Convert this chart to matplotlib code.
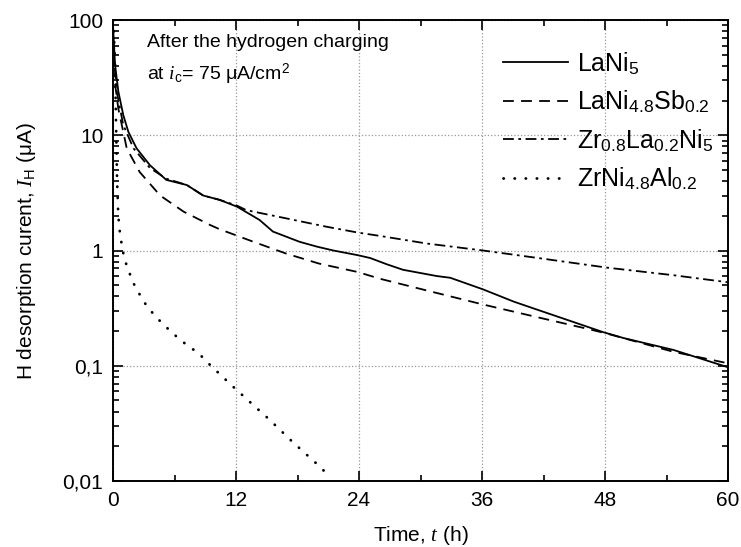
import numpy as np
import matplotlib
matplotlib.use("Agg")
import matplotlib.pyplot as plt
from matplotlib.ticker import FixedLocator, LogLocator, NullFormatter, MultipleLocator

plt.rcParams['font.family'] = ['Liberation Sans', 'DejaVu Sans']
plt.rcParams['mathtext.fontset'] = 'custom'
plt.rcParams['mathtext.rm'] = 'Liberation Sans'
plt.rcParams['mathtext.it'] = 'Liberation Serif:italic'

# LaNi5 (solid)
t_lani5 = [0, 0.2, 0.52, 1.0, 1.5, 2.3, 3.6, 5.2, 7.2, 8.8, 10.4, 12.1, 14.3, 15.6,
           18.2, 19.9, 21.5, 23.9, 25.1, 26.7, 28.3, 31.6, 32.9, 36.1, 39.1, 41.0,
           41.7, 47.8, 49.8, 54.7, 60]
i_lani5 = [90, 41, 24, 15, 10.7, 7.7, 5.5, 4.1, 3.7, 3.0, 2.75, 2.4, 1.84, 1.46,
           1.19, 1.08, 1.0, 0.91, 0.86, 0.76, 0.68, 0.60, 0.58, 0.46, 0.36, 0.315,
           0.30, 0.196, 0.174, 0.137, 0.097]

# LaNi4.8Sb0.2 (dashed)
t_sb = [0, 0.2, 0.52, 1.34, 2.6, 4.6, 6.9, 9.5, 10.4, 13.7, 16.9, 20.1, 23.9,
        26.0, 30.6, 36.1, 41.7, 46.5, 48.2, 54.7, 60]
i_sb = [40, 28, 17, 7.7, 4.8, 3.0, 2.17, 1.66, 1.53, 1.19, 0.94, 0.77, 0.65,
        0.57, 0.45, 0.34, 0.26, 0.207, 0.19, 0.132, 0.105]

# Zr0.8La0.2Ni5 (dash-dot)
t_zr = [0, 0.36, 1.0, 2.0, 3.6, 5.2, 7.2, 8.8, 10.4, 12.1, 13.0, 16.9, 20.8,
        23.9, 26.0, 30.6, 36.1, 41.7, 48.2, 54.7, 60]
i_zr = [60, 24, 12.3, 7.7, 5.2, 4.2, 3.7, 3.0, 2.75, 2.45, 2.24, 1.9, 1.61,
        1.43, 1.34, 1.15, 1.0, 0.855, 0.71, 0.61, 0.53]

# ZrNi4.8Al0.2 (dotted)
t_al = [0.05, 0.2, 0.3, 0.4, 0.5, 0.6, 0.9, 1.14, 1.5, 1.9, 2.5, 3.2, 4.1, 5.2,
        6.2, 7.25, 8.33, 9.4, 11.7, 14.0, 15.2, 17.5, 19.8, 20.9]
i_al = [100, 40, 12, 4, 2.2, 1.6, 1.05, 0.83, 0.68, 0.54, 0.43, 0.34, 0.27, 0.216,
        0.179, 0.150, 0.129, 0.103, 0.066, 0.043, 0.0345, 0.0219, 0.0143, 0.0115]

y_ticks = [0.01, 0.1, 1, 10, 100]
y_ticklabels = ['0,01', '0,1', '1', '10', '100']
x_ticks = [0, 12, 24, 36, 48, 60]

fig = plt.figure(figsize=(7.41, 5.47), dpi=100)
ax = fig.add_axes([113 / 741, (547 - 481) / 547, 615 / 741, 461 / 547])

lw = 1.3
ax.plot(t_lani5, i_lani5, color='black', lw=lw, ls='-', label=r'LaNi$_5$')
ax.plot(t_sb, i_sb, color='black', lw=lw, ls=(0, (6, 4)), label=r'LaNi$_{4.8}$Sb$_{0.2}$')
ax.plot(t_zr, i_zr, color='black', lw=lw, ls=(0, (6, 2.5, 1.5, 2.5)),
        label=r'Zr$_{0.8}$La$_{0.2}$Ni$_5$')
ax.plot(t_al, i_al, color='black', lw=2.0, ls=(0, (0.1, 3.9)), dash_capstyle='round',
        label=r'ZrNi$_{4.8}$Al$_{0.2}$')

ax.set_yscale('log')
ax.set_xlim(0, 60)
ax.set_ylim(0.01, 100)
ax.yaxis.set_major_locator(FixedLocator(y_ticks))
ax.set_yticklabels(y_ticklabels)
ax.yaxis.set_minor_locator(LogLocator(base=10, subs=np.arange(2, 10)))
ax.yaxis.set_minor_formatter(NullFormatter())
ax.set_xticks(x_ticks)
ax.xaxis.set_minor_locator(MultipleLocator(6))

ax.tick_params(which='both', direction='in', top=True, right=True, labelsize=15,
               width=1.2)
ax.tick_params(which='major', length=7, pad=7)
ax.tick_params(which='minor', length=4)
for s in ax.spines.values():
    s.set_linewidth(1.4)

ax.grid(True, which='major', ls=':', color='#999999', lw=0.9)

ax.set_xlabel(r'Time, $t$ (h)', fontsize=15, labelpad=10)
ax.set_ylabel(r'H desorption curent, $I_{\rm H}$ ($\rm\mu$A)', fontsize=15, labelpad=18)

ax.text(0.055, 0.942, 'After the hydrogen charging', transform=ax.transAxes,
        fontsize=14, va='baseline')
ax.text(0.055, 0.87, r'at $i_{\rm c}$= 75 μA/cm$^2$', transform=ax.transAxes,
        fontsize=14, va='baseline')

ax.legend(loc='upper left', bbox_to_anchor=(0.634, 0.935), frameon=False,
          fontsize=18, handlelength=2.6, handletextpad=0.35, labelspacing=0.48,
          borderpad=0, borderaxespad=0)

fig.savefig('out.png', dpi=100)
